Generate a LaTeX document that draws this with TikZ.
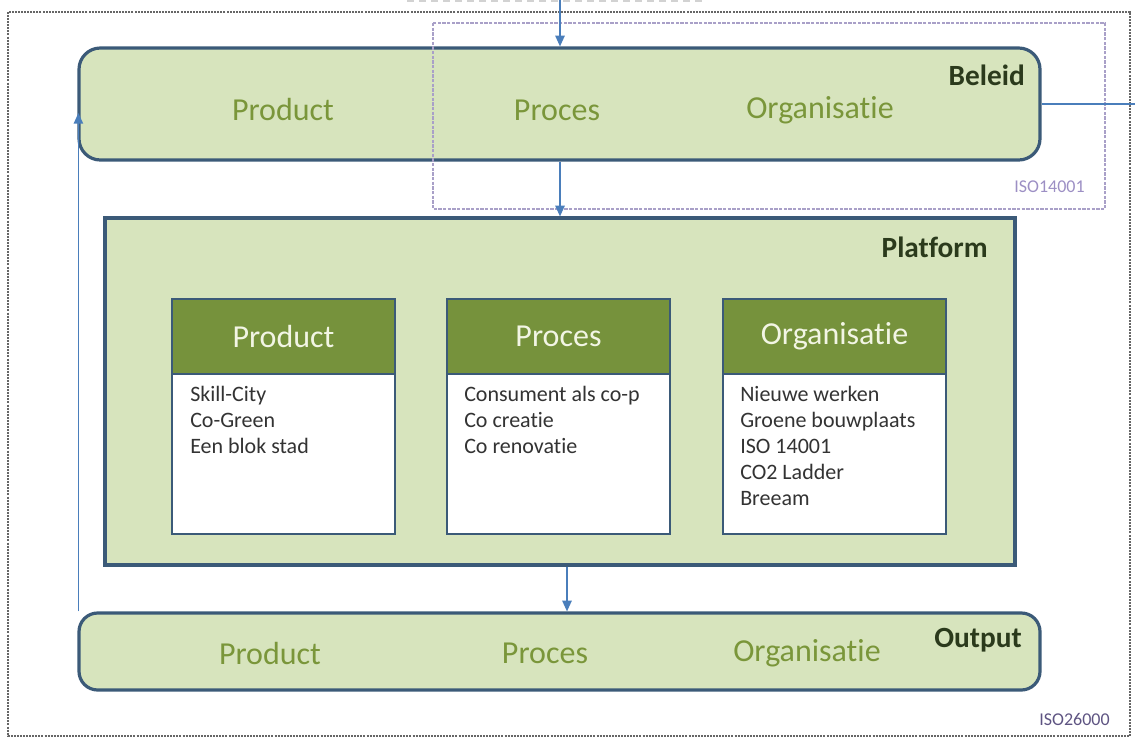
\documentclass[tikz,border=0pt]{standalone}
\usepackage{fontspec}
\setmainfont{Carlito}[Ligatures={NoCommon}]
\usetikzlibrary{arrows.meta,fit}
\definecolor{boxfill}{HTML}{D7E4BD}
\definecolor{boxline}{HTML}{3B5A78}
\definecolor{hdrfill}{HTML}{76923C}
\definecolor{olive}{HTML}{7A963A}
\definecolor{darklbl}{HTML}{2B3A1C}
\definecolor{arrcol}{HTML}{4A7EBB}
\definecolor{lav}{HTML}{A9A0C8}
\definecolor{isotxt}{HTML}{9C8FC4}
\definecolor{isotxtb}{HTML}{5E5482}
\definecolor{bodytxt}{HTML}{333333}
\definecolor{hdrtxt}{HTML}{F2F5E4}
\tikzset{
  bigbox/.style={draw=boxline, fill=boxfill, line width=2.4pt, inner sep=0pt},
  hdrbox/.style={draw=boxline, fill=hdrfill, line width=1.5pt, inner sep=0pt},
  bodybox/.style={draw=boxline, fill=white, line width=1.5pt, inner sep=0pt},
  cat/.style={text=olive, font=\fontsize{24}{28}\selectfont, inner sep=0pt},
  lbl/.style={text=darklbl, font=\bfseries\fontsize{22}{26}\selectfont, inner sep=0pt},
  hdr/.style={text=hdrtxt, font=\fontsize{24}{28}\selectfont, inner sep=0pt},
  body/.style={text=bodytxt, font=\fontsize{16.5}{19.5}\selectfont, align=left, anchor=north west, inner sep=0pt},
  isolbl/.style={font=\fontsize{13.5}{16}\selectfont, anchor=east, inner sep=0pt},
  arr/.style={draw=arrcol, line width=1.1pt, -{Triangle[length=8pt,width=7pt]}},
  link/.style={draw=arrcol, line width=1.1pt}
}
\begin{document}
\begin{tikzpicture}[x=0.75pt,y=-0.75pt]
\useasboundingbox (0,0) rectangle (1135,739);
% faint cut-off box at top
\draw[gray!35, line width=2pt, dash pattern=on 5pt off 4pt] (407,1) -- (706,1);
% outer ISO26000 box
\draw[gray!80!black, line width=0.9pt, dash pattern=on 1.5pt off 0.8pt] (8,12) rectangle (1130,736);
\node[isolbl, text=isotxtb] (iso26) at (1110,719) {ISO26000};

% Beleid
\node[bigbox, rounded corners=16pt, fit={(79,48) (1040,160)}] (beleid) {};
\node[cat] (bprod) at (283,110) {Product};
\node[cat] (bproc) at (557,110) {Proces};
\node[cat] (borg) at (820,110) {Organisatie};
\node[lbl, anchor=east] (blbl) at (1025,75) {Beleid};

% ISO14001 box
\draw[lav, line width=0.9pt, dash pattern=on 2.5pt off 1pt] (433,23) rectangle (1105,209);
\node[isolbl, text=isotxt] (iso14) at (1085,187) {ISO14001};

% Platform
\node[bigbox, fit={(105,218) (1015,565)}] (platform) {};
\node[lbl, anchor=east] (plbl) at (988,247) {Platform};

% columns
\node[hdrbox, fit={(172,299) (395,374)}] (h1) {};
\node[bodybox, fit={(172,374) (395,534)}] (b1) {};
\node[hdr] (t1) at (h1.center) {Product};
\node[body] (l1) at (190,386) {Skill-City\\Co-Green\\Een blok stad};

\node[hdrbox, fit={(447,299) (670,374)}] (h2) {};
\node[bodybox, fit={(447,374) (670,534)}] (b2) {};
\node[hdr] (t2) at (h2.center) {Proces};
\node[body] (l2) at (464,386) {Consument als co-p\\Co creatie\\Co renovatie};

\node[hdrbox, fit={(723,299) (946,374)}] (h3) {};
\node[bodybox, fit={(723,374) (946,534)}] (b3) {};
\node[hdr] (t3) at (h3.center) {Organisatie};
\node[body] (l3) at (740,386) {Nieuwe werken\\Groene bouwplaats\\ISO 14001\\CO2 Ladder\\Breeam};

% Output
\node[bigbox, rounded corners=14pt, fit={(79,613) (1040,690)}] (output) {};
\node[cat] (oprod) at (270,653) {Product};
\node[cat] (oproc) at (545,653) {Proces};
\node[cat] (oorg) at (807,653) {Organisatie};
\node[lbl, anchor=east] (olbl) at (1022,640) {Output};

% connectors
\coordinate (topin) at (560,0);
\coordinate (rightout) at (1135,104);
\coordinate (fb) at (0,113);
\coordinate (c1) at (560,0);
\coordinate (c2) at (567,0);
\draw[arr] (topin) -- (beleid.north -| topin);
\draw[arr] (beleid.south -| c1) -- (platform.north -| c1);
\draw[arr] (platform.south -| c2) -- (output.north -| c2);
\draw[link] (beleid.east) -- (rightout);
\draw[arr] ([xshift=0.75pt]output.north west) -- ([xshift=0.75pt]output.north west |- fb);
\end{tikzpicture}
\end{document}
